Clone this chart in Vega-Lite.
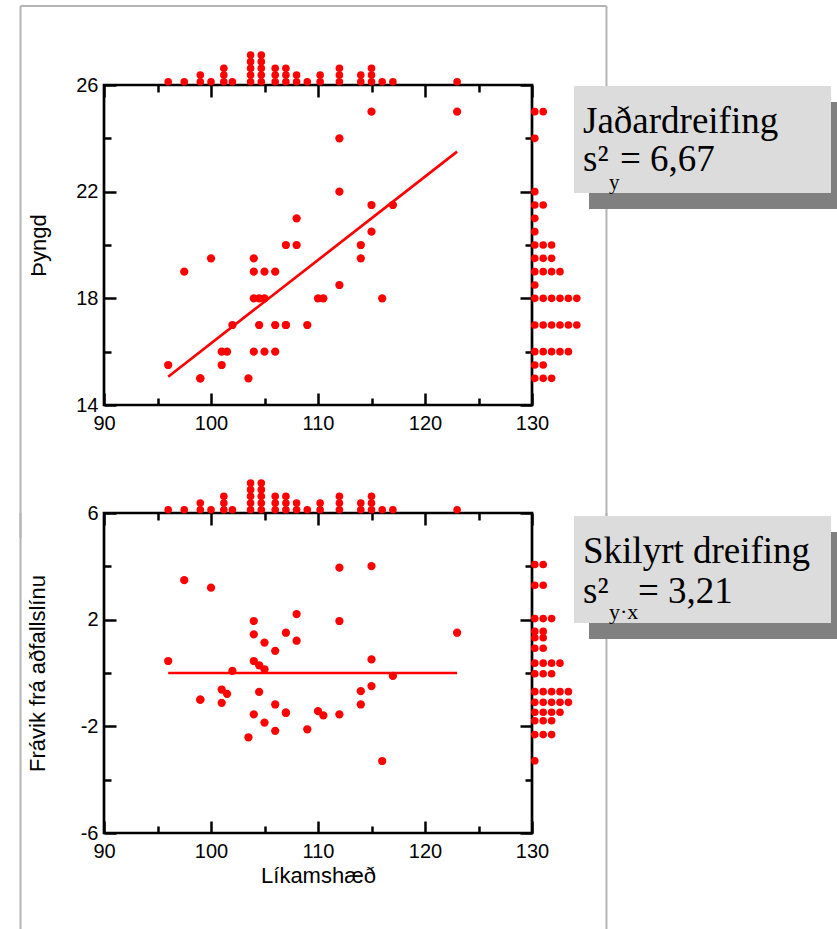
{
  "$schema": "https://vega.github.io/schema/vega-lite/v6.json",
  "background": "white",
  "padding": {"left": 18, "top": 3, "right": 0, "bottom": 0},
  "datasets": {
    "pts": [
      {"x": 96, "y": 15.5, "r": 0.45, "xbin": 96, "rbin": 0.37},
      {"x": 97.5, "y": 19, "r": 3.48, "xbin": 97.5, "rbin": 3.29},
      {"x": 99, "y": 15, "r": -1.0, "xbin": 99, "rbin": -1.1},
      {"x": 99, "y": 15, "r": -1.0, "xbin": 99, "rbin": -1.1},
      {"x": 100, "y": 19.5, "r": 3.2, "xbin": 100, "rbin": 3.29},
      {"x": 101, "y": 16, "r": -0.62, "xbin": 101.2, "rbin": -0.7},
      {"x": 101, "y": 15.5, "r": -1.12, "xbin": 101.2, "rbin": -1.1},
      {"x": 101.5, "y": 16, "r": -0.78, "xbin": 101.2, "rbin": -0.7},
      {"x": 102, "y": 17, "r": 0.08, "xbin": 102, "rbin": -0.03},
      {"x": 103.5, "y": 15, "r": -2.41, "xbin": 103.7, "rbin": -2.31},
      {"x": 104, "y": 19.5, "r": 1.95, "xbin": 103.7, "rbin": 2.04},
      {"x": 104, "y": 19, "r": 1.45, "xbin": 103.7, "rbin": 1.32},
      {"x": 104, "y": 18, "r": 0.45, "xbin": 103.7, "rbin": 0.37},
      {"x": 104, "y": 16, "r": -1.55, "xbin": 103.7, "rbin": -1.47},
      {"x": 104.5, "y": 18, "r": 0.29, "xbin": 104.7, "rbin": 0.37},
      {"x": 104.5, "y": 17, "r": -0.71, "xbin": 104.7, "rbin": -0.7},
      {"x": 105, "y": 19, "r": 1.14, "xbin": 104.7, "rbin": 0.93},
      {"x": 105, "y": 18, "r": 0.14, "xbin": 104.7, "rbin": -0.03},
      {"x": 105, "y": 16, "r": -1.86, "xbin": 104.7, "rbin": -1.79},
      {"x": 106, "y": 19, "r": 0.83, "xbin": 106, "rbin": 0.93},
      {"x": 106, "y": 17, "r": -1.18, "xbin": 106, "rbin": -1.1},
      {"x": 106, "y": 16, "r": -2.17, "xbin": 106, "rbin": -2.31},
      {"x": 107, "y": 20, "r": 1.51, "xbin": 107, "rbin": 1.56},
      {"x": 107, "y": 17, "r": -1.49, "xbin": 107, "rbin": -1.47},
      {"x": 107, "y": 17, "r": -1.49, "xbin": 107, "rbin": -1.47},
      {"x": 108, "y": 21, "r": 2.21, "xbin": 108, "rbin": 2.04},
      {"x": 108, "y": 20, "r": 1.21, "xbin": 108, "rbin": 1.32},
      {"x": 109, "y": 17, "r": -2.11, "xbin": 109, "rbin": -2.31},
      {"x": 110, "y": 18, "r": -1.43, "xbin": 110.2, "rbin": -1.47},
      {"x": 110.5, "y": 18, "r": -1.59, "xbin": 110.2, "rbin": -1.79},
      {"x": 112, "y": 24, "r": 3.95, "xbin": 112, "rbin": 4.07},
      {"x": 112, "y": 22, "r": 1.95, "xbin": 112, "rbin": 2.04},
      {"x": 112, "y": 18.5, "r": -1.55, "xbin": 112, "rbin": -1.79},
      {"x": 114, "y": 20, "r": -0.68, "xbin": 114, "rbin": -0.7},
      {"x": 114, "y": 19.5, "r": -1.18, "xbin": 114, "rbin": -1.1},
      {"x": 115, "y": 25, "r": 4.01, "xbin": 115, "rbin": 4.07},
      {"x": 115, "y": 21.5, "r": 0.51, "xbin": 115, "rbin": 0.37},
      {"x": 115, "y": 20.5, "r": -0.49, "xbin": 115, "rbin": -0.7},
      {"x": 116, "y": 18, "r": -3.3, "xbin": 116, "rbin": -3.29},
      {"x": 117, "y": 21.5, "r": -0.11, "xbin": 117, "rbin": -0.03},
      {"x": 123, "y": 25, "r": 1.51, "xbin": 123, "rbin": 1.56}
    ],
    "reg": [
      {"x": 96, "y": 15.06, "r": 0},
      {"x": 123, "y": 23.5, "r": 0}
    ]
  },
  "columns": 2,
  "bounds": "flush",
  "spacing": {"row": 108, "column": 42},
  "concat": [
    {
      "width": 428, "height": 320,
      "view": {"stroke": "black", "strokeWidth": 2.7},
      "resolve": {"axis": {"x": "independent", "y": "independent"}},
      "layer": [
        {"data": {"values": [{}]}, "mark": {"type": "rule", "color": "#b4b4b4", "strokeWidth": 2},
         "encoding": {"x": {"datum": 82.2, "type": "quantitative", "scale": {"domain": [90, 130], "nice": false, "zero": false}, "axis": null},
                      "y": {"datum": 28.96, "type": "quantitative", "scale": {"domain": [14, 26], "nice": false, "zero": false}, "axis": null},
                      "y2": {"datum": 9}}},
        {"data": {"values": [{}]}, "mark": {"type": "rule", "color": "#b4b4b4", "strokeWidth": 2},
         "encoding": {"x": {"datum": 136.96, "type": "quantitative", "scale": {"domain": [90, 130], "nice": false, "zero": false}, "axis": null},
                      "y": {"datum": 28.96, "type": "quantitative", "scale": {"domain": [14, 26], "nice": false, "zero": false}, "axis": null},
                      "y2": {"datum": 9}}},
        {"data": {"values": [{}]}, "mark": {"type": "rule", "color": "#b4b4b4", "strokeWidth": 2},
         "encoding": {"x": {"datum": 82.2, "type": "quantitative", "scale": {"domain": [90, 130], "nice": false, "zero": false}, "axis": null},
                      "x2": {"datum": 136.96},
                      "y": {"datum": 28.96, "type": "quantitative", "scale": {"domain": [14, 26], "nice": false, "zero": false}, "axis": null}}},
        {"data": {"name": "pts"}, "mark": {"type": "point", "opacity": 0},
         "encoding": {"x": {"field": "x", "type": "quantitative", "scale": {"domain": [90, 130], "nice": false, "zero": false},
                            "axis": {"orient": "bottom", "values": [90, 100, 110, 120, 130], "tickSize": -12, "labelPadding": 20, "title": null}},
                      "y": {"field": "y", "type": "quantitative", "scale": {"domain": [14, 26], "nice": false, "zero": false},
                            "axis": {"orient": "left", "values": [14, 18, 22, 26], "tickSize": -12, "labelPadding": 18, "title": "Þyngd", "titlePadding": 25}}}},
        {"data": {"name": "pts"}, "mark": {"type": "point", "opacity": 0},
         "encoding": {"x": {"field": "x", "type": "quantitative", "scale": {"domain": [90, 130], "nice": false, "zero": false},
                            "axis": {"orient": "bottom", "values": [95, 105, 115, 125], "tickSize": -7, "labels": false, "title": null}},
                      "y": {"field": "y", "type": "quantitative", "scale": {"domain": [14, 26], "nice": false, "zero": false},
                            "axis": {"orient": "left", "values": [16, 20, 24], "tickSize": -7, "labels": false, "title": null}}}},
        {"data": {"name": "pts"}, "mark": {"type": "point", "opacity": 0},
         "encoding": {"x": {"field": "x", "type": "quantitative", "scale": {"domain": [90, 130], "nice": false, "zero": false},
                            "axis": {"orient": "top", "values": [90, 100, 110, 120, 130], "tickSize": -12, "labels": false, "title": null}},
                      "y": {"field": "y", "type": "quantitative", "scale": {"domain": [14, 26], "nice": false, "zero": false},
                            "axis": {"orient": "right", "values": [14, 18, 22, 26], "tickSize": -12, "labels": false, "title": null}}}},
        {"data": {"name": "pts"}, "mark": {"type": "point", "opacity": 0},
         "encoding": {"x": {"field": "x", "type": "quantitative", "scale": {"domain": [90, 130], "nice": false, "zero": false},
                            "axis": {"orient": "top", "values": [95, 105, 115, 125], "tickSize": -7, "labels": false, "title": null}},
                      "y": {"field": "y", "type": "quantitative", "scale": {"domain": [14, 26], "nice": false, "zero": false},
                            "axis": {"orient": "right", "values": [16, 20, 24], "tickSize": -7, "labels": false, "title": null}}}},
        {"data": {"name": "reg"}, "mark": {"type": "line", "color": "#ff0000", "strokeWidth": 2.7},
         "encoding": {"x": {"field": "x", "type": "quantitative", "scale": {"domain": [90, 130], "nice": false, "zero": false}, "axis": null},
                      "y": {"field": "y", "type": "quantitative", "scale": {"domain": [14, 26], "nice": false, "zero": false}, "axis": null}}},
        {"data": {"name": "pts"}, "mark": {"type": "circle", "size": 68, "color": "#ff0000", "opacity": 1},
         "encoding": {"x": {"field": "x", "type": "quantitative", "scale": {"domain": [90, 130], "nice": false, "zero": false}, "axis": null},
                      "y": {"field": "y", "type": "quantitative", "scale": {"domain": [14, 26], "nice": false, "zero": false}, "axis": null}}},
        {"data": {"name": "pts"},
         "transform": [{"window": [{"op": "row_number", "as": "k"}], "groupby": ["xbin"]}],
         "mark": {"type": "circle", "size": 58, "color": "#ff0000", "opacity": 1},
         "encoding": {"x": {"field": "xbin", "type": "quantitative", "scale": {"domain": [90, 130], "nice": false, "zero": false}, "axis": null},
                      "y": {"datum": 26, "type": "quantitative", "scale": {"domain": [14, 26], "nice": false, "zero": false}, "axis": null},
                      "yOffset": {"field": "k", "type": "quantitative", "scale": {"domain": [1, 5], "range": [-3.3, -30]}}}},
        {"data": {"name": "pts"},
         "transform": [{"window": [{"op": "row_number", "as": "k"}], "groupby": ["y"]}],
         "mark": {"type": "circle", "size": 58, "color": "#ff0000", "opacity": 1},
         "encoding": {"x": {"datum": 130, "type": "quantitative", "scale": {"domain": [90, 130], "nice": false, "zero": false}, "axis": null},
                      "y": {"field": "y", "type": "quantitative", "scale": {"domain": [14, 26], "nice": false, "zero": false}, "axis": null},
                      "xOffset": {"field": "k", "type": "quantitative", "scale": {"domain": [1, 6], "range": [2.8, 44.8]}}}}
      ]
    },
    {
      "width": 257, "height": 107,
      "data": {"values": [{}]},
      "encoding": {
        "x": {"datum": 0, "type": "quantitative", "scale": {"domain": [0, 1], "nice": false, "zero": false}, "axis": null},
        "y": {"datum": 1, "type": "quantitative", "scale": {"domain": [0, 1], "nice": false, "zero": false}, "axis": null}
      },
      "layer": [
        {"mark": {"type": "rect", "color": "#808080", "xOffset": 15, "x2Offset": 15, "yOffset": 17, "y2Offset": 17},
         "encoding": {"x2": {"datum": 1}, "y": {"datum": 0, "type": "quantitative"}, "y2": {"datum": 1}}},
        {"mark": {"type": "rect", "color": "#dcdcdc", "yOffset": 1, "y2Offset": 1},
         "encoding": {"x2": {"datum": 1}, "y": {"datum": 0, "type": "quantitative"}, "y2": {"datum": 1}}},
        {"mark": {"type": "text", "font": "Liberation Serif", "fontSize": 37, "color": "black", "align": "left", "baseline": "alphabetic", "dx": 9, "dy": 48, "text": "Jaðardreifing"}},
        {"mark": {"type": "text", "font": "Liberation Serif", "fontSize": 37, "color": "black", "align": "left", "baseline": "alphabetic", "dx": 9, "dy": 86, "text": "s²"}},
        {"mark": {"type": "text", "font": "Liberation Serif", "fontSize": 21, "color": "black", "align": "left", "baseline": "alphabetic", "dx": 35, "dy": 104, "text": "y"}},
        {"mark": {"type": "text", "font": "Liberation Serif", "fontSize": 37, "color": "black", "align": "left", "baseline": "alphabetic", "dx": 46, "dy": 86, "text": "= 6,67"}}
      ]
    },
    {
      "width": 428, "height": 320,
      "view": {"stroke": "black", "strokeWidth": 2.7},
      "resolve": {"axis": {"x": "independent", "y": "independent"}},
      "layer": [
        {"data": {"values": [{}]}, "mark": {"type": "rule", "color": "#b4b4b4", "strokeWidth": 2},
         "encoding": {"x": {"datum": 82.2, "type": "quantitative", "scale": {"domain": [90, 130], "nice": false, "zero": false}, "axis": null},
                      "y": {"datum": 6, "type": "quantitative", "scale": {"domain": [-6, 6], "nice": false, "zero": false}, "axis": null},
                      "y2": {"datum": -10}}},
        {"data": {"values": [{}]}, "mark": {"type": "rule", "color": "#b4b4b4", "strokeWidth": 2},
         "encoding": {"x": {"datum": 136.96, "type": "quantitative", "scale": {"domain": [90, 130], "nice": false, "zero": false}, "axis": null},
                      "y": {"datum": 6, "type": "quantitative", "scale": {"domain": [-6, 6], "nice": false, "zero": false}, "axis": null},
                      "y2": {"datum": -10}}},
        {"data": {"name": "pts"}, "mark": {"type": "point", "opacity": 0},
         "encoding": {"x": {"field": "x", "type": "quantitative", "scale": {"domain": [90, 130], "nice": false, "zero": false},
                            "axis": {"orient": "bottom", "values": [90, 100, 110, 120, 130], "tickSize": -12, "labelPadding": 20, "title": "Líkamshæð", "titlePadding": 4}},
                      "y": {"field": "r", "type": "quantitative", "scale": {"domain": [-6, 6], "nice": false, "zero": false},
                            "axis": {"orient": "left", "values": [-6, -2, 2, 6], "tickSize": -12, "labelPadding": 18, "labelExpr": "'' + datum.value", "title": "Frávik frá aðfallslínu", "titlePadding": 31}}}},
        {"data": {"name": "pts"}, "mark": {"type": "point", "opacity": 0},
         "encoding": {"x": {"field": "x", "type": "quantitative", "scale": {"domain": [90, 130], "nice": false, "zero": false},
                            "axis": {"orient": "bottom", "values": [95, 105, 115, 125], "tickSize": -7, "labels": false, "title": null}},
                      "y": {"field": "r", "type": "quantitative", "scale": {"domain": [-6, 6], "nice": false, "zero": false},
                            "axis": {"orient": "left", "values": [-4, 0, 4], "tickSize": -7, "labels": false, "title": null}}}},
        {"data": {"name": "pts"}, "mark": {"type": "point", "opacity": 0},
         "encoding": {"x": {"field": "x", "type": "quantitative", "scale": {"domain": [90, 130], "nice": false, "zero": false},
                            "axis": {"orient": "top", "values": [90, 100, 110, 120, 130], "tickSize": -12, "labels": false, "title": null}},
                      "y": {"field": "r", "type": "quantitative", "scale": {"domain": [-6, 6], "nice": false, "zero": false},
                            "axis": {"orient": "right", "values": [-6, -2, 2, 6], "tickSize": -12, "labels": false, "title": null}}}},
        {"data": {"name": "pts"}, "mark": {"type": "point", "opacity": 0},
         "encoding": {"x": {"field": "x", "type": "quantitative", "scale": {"domain": [90, 130], "nice": false, "zero": false},
                            "axis": {"orient": "top", "values": [95, 105, 115, 125], "tickSize": -7, "labels": false, "title": null}},
                      "y": {"field": "r", "type": "quantitative", "scale": {"domain": [-6, 6], "nice": false, "zero": false},
                            "axis": {"orient": "right", "values": [-4, 0, 4], "tickSize": -7, "labels": false, "title": null}}}},
        {"data": {"name": "reg"}, "mark": {"type": "line", "color": "#ff0000", "strokeWidth": 2.7},
         "encoding": {"x": {"field": "x", "type": "quantitative", "scale": {"domain": [90, 130], "nice": false, "zero": false}, "axis": null},
                      "y": {"field": "r", "type": "quantitative", "scale": {"domain": [-6, 6], "nice": false, "zero": false}, "axis": null}}},
        {"data": {"name": "pts"}, "mark": {"type": "circle", "size": 68, "color": "#ff0000", "opacity": 1},
         "encoding": {"x": {"field": "x", "type": "quantitative", "scale": {"domain": [90, 130], "nice": false, "zero": false}, "axis": null},
                      "y": {"field": "r", "type": "quantitative", "scale": {"domain": [-6, 6], "nice": false, "zero": false}, "axis": null}}},
        {"data": {"name": "pts"},
         "transform": [{"window": [{"op": "row_number", "as": "k"}], "groupby": ["xbin"]}],
         "mark": {"type": "circle", "size": 58, "color": "#ff0000", "opacity": 1},
         "encoding": {"x": {"field": "xbin", "type": "quantitative", "scale": {"domain": [90, 130], "nice": false, "zero": false}, "axis": null},
                      "y": {"datum": 6, "type": "quantitative", "scale": {"domain": [-6, 6], "nice": false, "zero": false}, "axis": null},
                      "yOffset": {"field": "k", "type": "quantitative", "scale": {"domain": [1, 5], "range": [-3.3, -30]}}}},
        {"data": {"name": "pts"},
         "transform": [{"window": [{"op": "row_number", "as": "k"}], "groupby": ["rbin"]}],
         "mark": {"type": "circle", "size": 58, "color": "#ff0000", "opacity": 1},
         "encoding": {"x": {"datum": 130, "type": "quantitative", "scale": {"domain": [90, 130], "nice": false, "zero": false}, "axis": null},
                      "y": {"field": "rbin", "type": "quantitative", "scale": {"domain": [-6, 6], "nice": false, "zero": false}, "axis": null},
                      "xOffset": {"field": "k", "type": "quantitative", "scale": {"domain": [1, 6], "range": [2.8, 44.8]}}}}
      ]
    },
    {
      "width": 257, "height": 107,
      "data": {"values": [{}]},
      "encoding": {
        "x": {"datum": 0, "type": "quantitative", "scale": {"domain": [0, 1], "nice": false, "zero": false}, "axis": null},
        "y": {"datum": 1, "type": "quantitative", "scale": {"domain": [0, 1], "nice": false, "zero": false}, "axis": null}
      },
      "layer": [
        {"mark": {"type": "rect", "color": "#808080", "xOffset": 15, "x2Offset": 15, "yOffset": 19, "y2Offset": 19},
         "encoding": {"x2": {"datum": 1}, "y": {"datum": 0, "type": "quantitative"}, "y2": {"datum": 1}}},
        {"mark": {"type": "rect", "color": "#dcdcdc", "yOffset": 3, "y2Offset": 3},
         "encoding": {"x2": {"datum": 1}, "y": {"datum": 0, "type": "quantitative"}, "y2": {"datum": 1}}},
        {"mark": {"type": "text", "font": "Liberation Serif", "fontSize": 37, "color": "black", "align": "left", "baseline": "alphabetic", "dx": 9, "dy": 50, "text": "Skilyrt dreifing"}},
        {"mark": {"type": "text", "font": "Liberation Serif", "fontSize": 37, "color": "black", "align": "left", "baseline": "alphabetic", "dx": 9, "dy": 90, "text": "s²"}},
        {"mark": {"type": "text", "font": "Liberation Serif", "fontSize": 22, "color": "black", "align": "left", "baseline": "alphabetic", "dx": 35, "dy": 106, "text": "y·x"}},
        {"mark": {"type": "text", "font": "Liberation Serif", "fontSize": 37, "color": "black", "align": "left", "baseline": "alphabetic", "dx": 64, "dy": 90, "text": "= 3,21"}}
      ]
    }
  ],
  "config": {
    "view": {"stroke": null},
    "font": "Liberation Sans",
    "axis": {
      "domain": false, "grid": false, "tickColor": "black", "tickWidth": 2.5,
      "labelFont": "Liberation Sans", "labelFontSize": 20, "labelColor": "black",
      "titleFont": "Liberation Sans", "titleFontSize": 22, "titleFontWeight": "normal", "titleColor": "black",
      "labelFlush": false, "labelOverlap": false
    }
  }
}
